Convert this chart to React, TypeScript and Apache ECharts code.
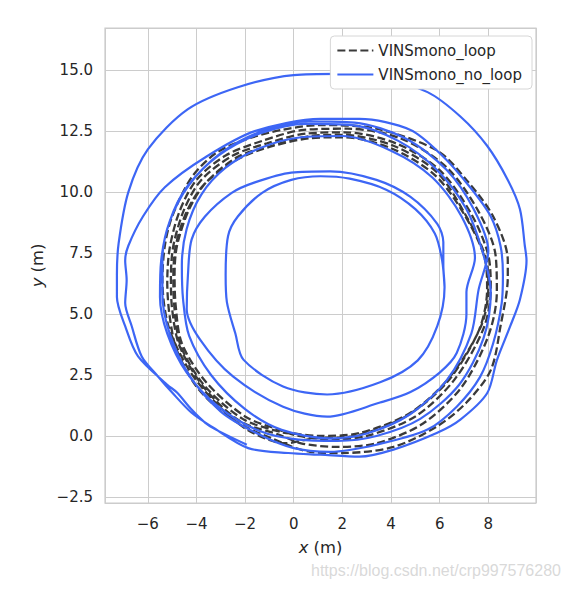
import React, { useRef, useEffect } from 'react'
import * as echarts from 'echarts'

type Pt = [number, number]

// axis ranges and tick steps (metres)
const xRange: Pt = [-7.76, 9.96]
const yRange: Pt = [-2.75, 16.73]
const xStep = 2
const yStep = 2.5

const seriesNames = ['VINSmono_loop', 'VINSmono_no_loop']

// VINSmono_loop (dashed), lap by lap
const loopLap1: Pt[] = [
  [0, 0.1], [1.0, 0.0], [2.7, 0.12], [4.8, 0.95], [6.4, 2.4], [7.7, 4.5], [8.0, 6.1], [7.9, 7.3],
  [7.1, 9.0], [5.9, 10.8], [4.1, 11.9], [2.0, 12.35], [0.7, 12.3], [-0.9, 11.9], [-2.3, 11.45],
  [-3.6, 10.4], [-4.3, 9.3], [-4.8, 7.8], [-4.9, 6.6], [-4.85, 5.3], [-4.6, 3.8], [-3.6, 2.2],
  [-2.0, 0.8], [-0.6, 0.25]
]
const loopLap2: Pt[] = [
  [0.2, 0.0], [1.5, -0.15], [3.0, 0.0], [5.0, 0.8], [6.6, 2.3], [7.8, 4.4], [8.1, 6.0], [8.0, 7.4],
  [7.3, 9.1], [6.0, 10.9], [4.2, 12.0], [2.1, 12.45], [0.5, 12.4], [-1.1, 12.0], [-2.5, 11.5],
  [-3.8, 10.5], [-4.5, 9.3], [-4.95, 7.8], [-5.05, 6.5], [-5.0, 5.2], [-4.7, 3.7], [-3.7, 2.0],
  [-2.2, 0.6], [-0.6, 0.05]
]
const loopLap3: Pt[] = [
  [0.3, -0.3], [1.8, -0.45], [3.4, -0.3], [5.3, 0.5], [6.9, 2.0], [8.0, 4.1], [8.35, 5.9], [8.3, 7.4],
  [7.6, 9.2], [6.3, 11.0], [4.4, 12.2], [2.2, 12.6], [0.4, 12.55], [-1.3, 12.1], [-2.8, 11.5],
  [-4.0, 10.5], [-4.7, 9.2], [-5.1, 7.7], [-5.2, 6.3], [-5.1, 4.9], [-4.8, 3.5], [-3.9, 1.9],
  [-2.4, 0.6], [-0.9, -0.1]
]
const loopLap4: Pt[] = [
  [0.67, -0.65], [2.0, -0.7], [4.1, -0.45], [5.9, 0.4], [7.1, 1.37], [8.1, 2.7], [8.5, 4.5],
  [8.8, 6.5], [8.8, 7.2], [8.2, 9.0], [7.1, 10.5], [5.9, 11.7], [3.4, 12.6], [1.1, 12.75],
  [-0.5, 12.55], [-2.0, 12.15], [-3.2, 11.6], [-4.2, 10.6], [-5.0, 9.0], [-5.3, 7.8], [-5.4, 6.4],
  [-5.15, 4.5], [-4.3, 2.7], [-3.2, 1.35], [-1.9, 0.25], [-0.35, -0.3]
]
const loopLap5: Pt[] = [
  [0.8, -0.1], [2.5, 0.0], [4.6, 0.8], [6.3, 2.2], [7.6, 4.3], [7.95, 6.0], [7.85, 7.3], [7.0, 9.1],
  [5.8, 10.7], [4.0, 11.8], [2.0, 12.25], [0.6, 12.2], [-1.0, 11.85], [-2.4, 11.3], [-3.7, 10.3],
  [-4.4, 9.2], [-4.85, 7.8], [-4.95, 6.5], [-4.9, 5.2], [-4.65, 3.7], [-3.7, 2.1], [-2.1, 0.7],
  [-0.5, 0.15], [0.0, 0.1]
]

// VINSmono_no_loop (solid), lap by lap, growing outwards
const noLoopLap1: Pt[] = [
  [6.2, 6.1], [6.1, 7.2], [5.8, 8.3], [5.0, 9.3], [3.8, 10.1], [2.3, 10.55], [1.1, 10.65],
  [-0.1, 10.5], [-1.3, 9.97], [-2.3, 9.0], [-2.7, 8.2], [-2.8, 6.6], [-2.75, 5.5], [-2.4, 4.2],
  [-2.07, 3.13], [-0.44, 2.03], [1.37, 1.7], [3.55, 2.2], [5.1, 3.1], [5.9, 4.5], [6.2, 6.1],
  [6.15, 7.0]
]
const noLoopLap2: Pt[] = [
  [6.15, 7.95], [5.9, 8.7], [4.8, 9.8], [3.4, 10.5], [1.5, 10.85], [-0.1, 10.8], [-1.6, 10.4],
  [-2.55, 9.97], [-3.65, 9.0], [-4.2, 8.05], [-4.35, 6.6], [-4.4, 5.2], [-3.85, 3.95],
  [-2.5, 2.44], [-0.44, 1.2], [1.37, 0.79], [3.55, 1.37], [4.8, 1.8], [6.0, 2.6], [6.7, 3.4],
  [7.1, 5.0], [7.1, 5.9]
]
const noLoopLap3: Pt[] = [
  [7.45, 7.3], [6.9, 9.0], [5.7, 10.6], [4.0, 11.7], [2.0, 12.3], [0.3, 12.25], [-1.4, 11.8],
  [-2.8, 11.0], [-3.8, 9.9], [-4.4, 8.5], [-4.6, 7.0], [-4.55, 5.6], [-4.3, 4.1], [-3.4, 2.5],
  [-2.0, 1.1], [-0.5, 0.25], [1.5, -0.1], [3.0, 0.1], [4.8, 0.9], [6.3, 2.3], [7.3, 4.2], [7.6, 6.0]
]
const noLoopLap4: Pt[] = [
  [8.0, 7.6], [7.4, 9.3], [6.3, 10.9], [4.6, 12.2], [2.5, 12.85], [0.6, 12.9], [-1.3, 12.5],
  [-3.0, 11.6], [-4.3, 10.3], [-5.1, 8.8], [-5.45, 7.2], [-5.5, 5.7], [-5.2, 4.2], [-4.4, 2.6],
  [-3.1, 1.2], [-1.4, 0.2], [0.2, -0.15], [1.8, -0.2], [3.4, 0.0], [5.2, 0.7], [6.8, 2.1],
  [7.8, 4.0], [8.1, 5.9]
]
const noLoopLap5: Pt[] = [
  [7.75, 7.6], [7.1, 9.3], [5.9, 10.9], [4.3, 12.1], [2.4, 12.75], [0.5, 12.8], [-1.4, 12.4],
  [-3.1, 11.5], [-4.4, 10.2], [-5.1, 8.8], [-5.4, 7.3], [-5.4, 5.8], [-5.1, 4.2], [-4.3, 2.5],
  [-3.0, 1.0], [-1.5, 0.1], [0.0, -0.5]
]
const noLoopLap6: Pt[] = [
  [1.5, -0.65], [3.4, -0.36], [5.5, 0.26], [6.7, 1.2], [7.65, 2.4], [8.2, 3.8], [8.55, 5.45],
  [8.6, 6.6], [8.5, 7.8], [8.1, 9.0], [7.25, 10.2], [6.15, 11.45], [4.8, 12.55], [2.7, 13.0],
  [1.1, 13.0], [-1.6, 12.5], [-3.6, 11.45], [-5.3, 10.2], [-6.2, 9.0], [-6.8, 7.8], [-6.93, 7.2],
  [-6.87, 6.4], [-6.93, 5.45], [-6.66, 4.5], [-6.25, 3.26], [-5.58, 2.44], [-5.0, 1.78],
  [-4.2, 0.95], [-3.37, 0.38], [-1.87, -0.5]
]
const noLoopLap7: Pt[] = [
  [-0.23, -0.7], [1.1, -0.77], [2.7, -0.85], [4.1, -0.56], [5.9, 0.13], [6.85, 0.67], [7.95, 1.75],
  [8.35, 3.1], [8.9, 4.5], [9.3, 5.6], [9.57, 7.2], [9.5, 7.8], [9.3, 9.3], [8.8, 10.5],
  [7.95, 11.9], [6.85, 13.1], [5.5, 14.1], [3.4, 14.75], [1.8, 14.85], [0.0, 14.8], [-2.3, 14.3],
  [-4.35, 13.4], [-6.0, 11.75], [-6.8, 10.0], [-7.2, 7.9], [-7.27, 6.6], [-7.27, 5.7],
  [-6.93, 4.5], [-6.4, 3.26], [-5.2, 2.1], [-4.8, 1.78], [-4.2, 1.08], [-3.65, 0.55],
  [-3.2, 0.26], [-1.93, -0.36]
]

const loopTrack = [...loopLap1, ...loopLap2, ...loopLap3, ...loopLap4, ...loopLap5]
const noLoopTrack = [
  ...noLoopLap1, ...noLoopLap2, ...noLoopLap3, ...noLoopLap4,
  ...noLoopLap5, ...noLoopLap6, ...noLoopLap7
]

const TEXT = '#262626'
const GRID = '#cccccc'
const FONT = 'DejaVu Sans'
const DARK = '#3a3a3a'
const BLUE = '#3d66f5'

const minus = (s: string) => s.replace('-', '\u2212')

const App: React.FC = () => {
  const chartRef = useRef<HTMLDivElement>(null)

  useEffect(() => {
    if (!chartRef.current) return
    const chart = echarts.init(chartRef.current, null, { renderer: 'svg' })

    const nameStyle = {
      color: TEXT,
      fontSize: 16.4,
      fontFamily: FONT,
      rich: { i: { fontStyle: 'italic', fontSize: 16.4, fontFamily: FONT, color: TEXT } }
    }

    const option = {
      animation: false,
      backgroundColor: '#ffffff',
      grid: {
        left: 105,
        top: 28,
        width: 431,
        height: 475,
        show: true,
        borderColor: GRID,
        borderWidth: 1.25,
        backgroundColor: 'transparent'
      },
      legend: {
        data: seriesNames,
        orient: 'vertical',
        right: 35,
        top: 36,
        itemWidth: 36,
        itemHeight: 14,
        itemGap: 9,
        padding: [7, 10, 7, 6],
        backgroundColor: '#ffffff',
        borderColor: '#d6d6d6',
        borderWidth: 1,
        borderRadius: 4,
        itemStyle: { opacity: 0 },
        textStyle: { color: TEXT, fontSize: 15, fontFamily: FONT }
      },
      xAxis: {
        type: 'value',
        min: xRange[0],
        max: xRange[1],
        minInterval: xStep,
        maxInterval: xStep,
        splitNumber: 8,
        name: '{i|x} (m)',
        nameLocation: 'middle',
        nameGap: 36,
        nameTextStyle: nameStyle,
        axisLine: { show: false },
        axisTick: { show: false },
        axisLabel: {
          color: TEXT,
          fontSize: 15,
          fontFamily: FONT,
          margin: 13,
          showMinLabel: false,
          showMaxLabel: false,
          formatter: (v: number) => minus(String(Math.round(v)))
        },
        splitLine: { lineStyle: { color: GRID, width: 1 } }
      },
      yAxis: {
        type: 'value',
        min: yRange[0],
        max: yRange[1],
        minInterval: yStep,
        maxInterval: yStep,
        splitNumber: 8,
        name: '{i|y} (m)',
        nameLocation: 'middle',
        nameGap: 60,
        nameTextStyle: nameStyle,
        axisLine: { show: false },
        axisTick: { show: false },
        axisLabel: {
          color: TEXT,
          fontSize: 15,
          fontFamily: FONT,
          margin: 12,
          showMinLabel: false,
          showMaxLabel: false,
          formatter: (v: number) => minus(v.toFixed(1))
        },
        splitLine: { lineStyle: { color: GRID, width: 1 } }
      },
      graphic: [
        {
          type: 'text',
          left: 311,
          top: 562,
          style: {
            text: 'https://blog.csdn.net/crp997576280',
            fill: 'rgba(200,200,200,0.7)',
            font: '16px "Liberation Sans", Arial, sans-serif'
          }
        }
      ],
      series: [
        {
          name: seriesNames[0],
          type: 'line',
          data: loopTrack,
          symbol: 'none',
          smooth: 0.3,
          lineStyle: { color: DARK, width: 2.3, type: [8, 3.5] },
          itemStyle: { color: DARK }
        },
        {
          name: seriesNames[1],
          type: 'line',
          data: noLoopTrack,
          symbol: 'none',
          smooth: 0.3,
          lineStyle: { color: BLUE, width: 2.2 },
          itemStyle: { color: BLUE }
        }
      ]
    }

    chart.setOption(option)
    return () => {
      chart.dispose()
    }
  }, [])

  return (
    <div
      ref={chartRef}
      style={{ position: 'fixed', left: 0, top: 0, width: 567, height: 589, background: '#fff' }}
    />
  )
}

export default App
